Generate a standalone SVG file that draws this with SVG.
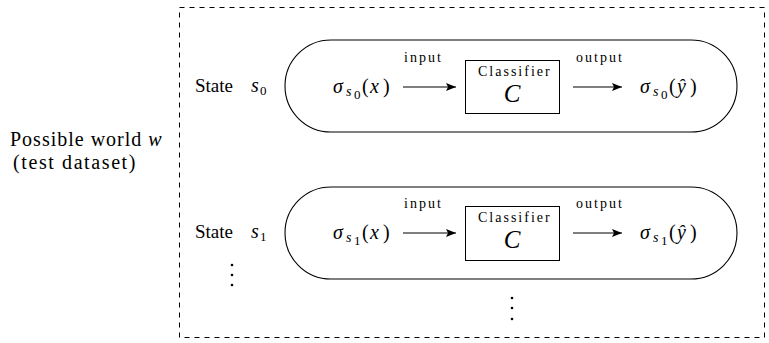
<svg xmlns="http://www.w3.org/2000/svg" width="769" height="343" viewBox="0 0 769 343" font-family="'Liberation Serif', 'Times New Roman', serif">
<style>
text{font-family:"Liberation Serif","Times New Roman",serif;fill:#000}
.m{font-size:20px}
.it{font-style:italic}
.sm{font-size:14px;letter-spacing:2px}
.sub{font-size:14px;font-style:italic}
.sub2{font-size:13px}
.stad{fill:none;stroke:#000;stroke-width:1.1}
.box{fill:#fff;stroke:#000;stroke-width:1}
.conn line{stroke:#000;stroke-width:1.1;marker-end:url(#ah)}
.dot{fill:#000}
</style>
<defs>
<marker id="ah" viewBox="0 0 10 8" refX="10" refY="4" markerWidth="10" markerHeight="8" markerUnits="userSpaceOnUse" orient="auto">
<path d="M0,0 L10,4 L0,8 L2,4 Z" fill="#000"/>
</marker>
</defs>
<rect x="179.5" y="7.5" width="585" height="330" fill="none" stroke="#000" stroke-width="1" stroke-dasharray="5,5"/>
<g id="world">
<text x="10" y="146" font-size="20" letter-spacing="1">Possible world <tspan class="it">w</tspan></text>
<text x="13" y="169" font-size="20" letter-spacing="1.6">(test dataset)</text>
</g>
<g id="state0">
<text x="195" y="92" font-size="19">State</text>
<text class="m it" x="251" y="92">s</text>
<text class="sub2" x="260" y="95">0</text>
<path class="stad" d="M331,40 H691 A46,46 0 0 1 691,132 H331 A46,46 0 0 1 331,40 Z"/>
<text class="m it" x="333" y="93">σ</text>
<text class="sub" x="346" y="96">s</text>
<text class="sub2" x="354" y="99">0</text>
<text class="m" x="362" y="93">(</text>
<text class="m it" x="370" y="93">x</text>
<text class="m" x="383" y="93">)</text>
<text class="m it" x="640" y="93">σ</text>
<text class="sub" x="653" y="96">s</text>
<text class="sub2" x="661" y="99">0</text>
<text class="m" x="669" y="93">(</text>
<text class="m it" x="677" y="93">ŷ</text>
<text class="m" x="690" y="93">)</text>
<text class="sm" x="404" y="62">input</text>
<text class="sm" x="576" y="62">output</text>
</g>
<g id="classifier0">
<rect class="box" x="465.5" y="60.5" width="94" height="53"/>
<text class="sm" x="478" y="76" font-size="13" letter-spacing="1.9">Classifier</text>
<text x="512" y="102" text-anchor="middle" font-size="25" font-style="italic">C</text>
</g>
<g id="state1">
<text x="195" y="238" font-size="19">State</text>
<text class="m it" x="251" y="238">s</text>
<text class="sub2" x="260" y="241">1</text>
<path class="stad" d="M331,187 H691 A46,46 0 0 1 691,279 H331 A46,46 0 0 1 331,187 Z"/>
<text class="m it" x="333" y="239">σ</text>
<text class="sub" x="346" y="242">s</text>
<text class="sub2" x="354" y="245">1</text>
<text class="m" x="362" y="239">(</text>
<text class="m it" x="370" y="239">x</text>
<text class="m" x="383" y="239">)</text>
<text class="m it" x="640" y="239">σ</text>
<text class="sub" x="653" y="242">s</text>
<text class="sub2" x="661" y="245">1</text>
<text class="m" x="669" y="239">(</text>
<text class="m it" x="677" y="239">ŷ</text>
<text class="m" x="690" y="239">)</text>
<text class="sm" x="404" y="208">input</text>
<text class="sm" x="576" y="208">output</text>
</g>
<g id="classifier1">
<rect class="box" x="465.5" y="206.5" width="94" height="54"/>
<text class="sm" x="478" y="222" font-size="13" letter-spacing="1.9">Classifier</text>
<text x="512" y="248" text-anchor="middle" font-size="25" font-style="italic">C</text>
</g>
<g id="ellipsis">
<circle class="dot" cx="232" cy="265" r="1.3"/>
<circle class="dot" cx="232" cy="275" r="1.3"/>
<circle class="dot" cx="232" cy="285" r="1.3"/>
<circle class="dot" cx="512" cy="298" r="1.3"/>
<circle class="dot" cx="512" cy="308" r="1.3"/>
<circle class="dot" cx="512" cy="319" r="1.3"/>
</g>
<g class="conn" id="connectors">
<line x1="403" y1="87" x2="456" y2="87"/>
<line x1="573" y1="87" x2="622" y2="87"/>
<line x1="403" y1="233" x2="456" y2="233"/>
<line x1="573" y1="233" x2="622" y2="233"/>
</g>
</svg>
